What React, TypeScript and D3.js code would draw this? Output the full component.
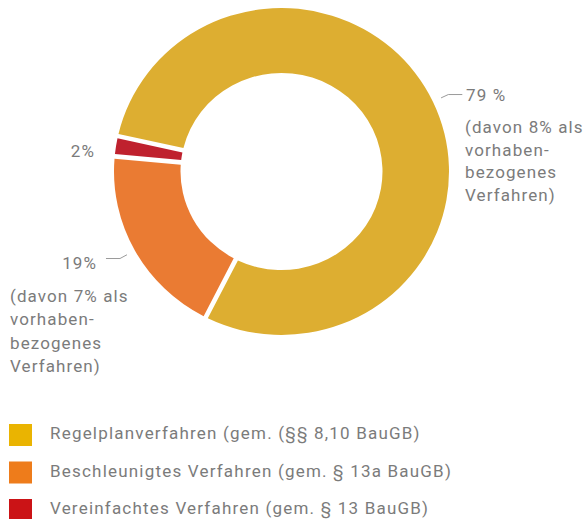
import React from 'react'
import * as d3 from 'd3'

// Anteile der Verfahrensarten (in %)
const categories = [
  'Regelplanverfahren (gem. (§§ 8,10 BauGB)',
  'Beschleunigtes Verfahren (gem. § 13a BauGB)',
  'Vereinfachtes Verfahren (gem. § 13 BauGB)',
]
const values = [79, 19, 2]
const sliceColors = ['#DDAE31', '#EA7B33', '#BF212E']
const legendColors = ['#EAB401', '#EE7C1B', '#CB1316']
const valueLabels = ['79 %', '19%', '2%']
const noteLines = [
  ['(davon 8% als', 'vorhaben-', 'bezogenes', 'Verfahren)'],
  ['(davon 7% als', 'vorhaben-', 'bezogenes', 'Verfahren)'],
  [],
]

const width = 584
const height = 519
const cx = 281.5
const cy = 171.5
const outerR = 167.5
const innerR = 101
const squash = 0.976 // the source drawing is slightly flattened
const textColor = '#7b7b7b'
const font = 'Roboto, "DejaVu Sans", sans-serif'

export default function App() {
  const startAngle = (-77.5 * Math.PI) / 180

  const pie = d3
    .pie<number>()
    .sort(null)
    .startAngle(startAngle)
    .endAngle(startAngle + 2 * Math.PI)

  const arcs = pie(values)

  const arc = d3
    .arc<d3.PieArcDatum<number>>()
    .innerRadius(innerR)
    .outerRadius(outerR)
    .padAngle(0.024)

  // point on circle of radius r at angle a (d3 convention: 0 = up, clockwise)
  const polar = (a: number, r: number) => [Math.sin(a) * r, -Math.cos(a) * r * squash]

  const line = d3.line()

  const legendY = d3.scalePoint<string>().domain(categories).range([424, 499])

  return (
    <svg
      width={width}
      height={height}
      style={{ position: 'absolute', left: 0, top: 0, background: '#fff' }}
      fontFamily={font}
    >
      <g transform={`translate(${cx},${cy})`}>
        <g transform={`scale(1,${squash})`}>
          {arcs.map((d, i) => (
            <path key={i} d={arc(d) || ''} fill={sliceColors[i]} />
          ))}
        </g>

        {/* leader lines for the two big slices */}
        {arcs.slice(0, 2).map((d, i) => {
          const mid = (d.startAngle + d.endAngle) / 2
          const p0 = polar(mid, outerR + 9)
          const p1 = polar(mid, outerR + 17)
          const dir = p1[0] > 0 ? 1 : -1
          const p2 = [p1[0] + dir * 14, p1[1]]
          return (
            <path
              key={i}
              d={line([p0, p1, p2] as [number, number][]) || ''}
              fill="none"
              stroke="#9a9a9a"
              strokeWidth={1}
            />
          )
        })}
      </g>

      <g fill={textColor} fontSize={17} letterSpacing={1.1}>
        {/* 79 % */}
        <text x={466} y={101}>{valueLabels[0]}</text>
        {noteLines[0].map((t, j) => (
          <text key={j} x={465} y={133 + j * 22.7}>{t}</text>
        ))}

        {/* 19% */}
        <text x={97} y={269} textAnchor="end">{valueLabels[1]}</text>
        {noteLines[1].map((t, j) => (
          <text key={j} x={10} y={302 + j * 23.3}>{t}</text>
        ))}

        {/* 2% */}
        <text x={95} y={157} textAnchor="end">{valueLabels[2]}</text>
      </g>

      <g>
        {categories.map((c, i) => {
          const y = legendY(c) as number
          return (
            <g key={c}>
              <rect x={9} y={y} width={23} height={22} fill={legendColors[i]} />
              <text
                x={50}
                y={y + 15}
                fill={textColor}
                fontSize={17}
                letterSpacing={1.2}
              >
                {c}
              </text>
            </g>
          )
        })}
      </g>
    </svg>
  )
}
